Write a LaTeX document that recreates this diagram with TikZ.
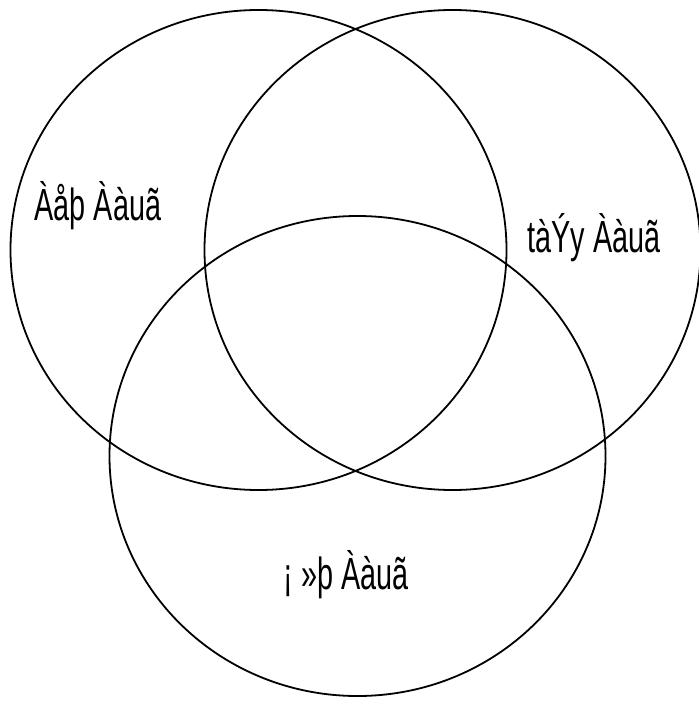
\documentclass[tikz,border=0pt]{standalone}
\usepackage{fontspec}
\usepackage{tikz}
\usetikzlibrary{shapes.geometric}
\newfontfamily\setfont[FakeStretch=0.64]{Liberation Sans}
\tikzstyle{setring} = [ellipse, draw=black, line width=1.8pt, minimum width=496pt, minimum height=480pt, inner sep=0pt]
\tikzstyle{setname} = [font=\setfont\fontsize{45}{50}\selectfont, inner sep=0pt]

\begin{document}
\begin{tikzpicture}[x=1pt, y=-1pt]
    \useasboundingbox (0,0) rectangle (698,722);
    \node[setring] (left) at (258.5,250) {};
    \node[setring] (right) at (452.5,250) {};
    \node[setring] (bottom) at (357.5,456) {};

    \node[setname] (leftname) at (98,206) {Àåþ Ààuã};
    \node[setname] (rightname) at (594,238) {tàÝy Ààuã};
    \node[setname] (bottomname) at (346,575) {¡ »þ Ààuã};
\end{tikzpicture}
\end{document}
